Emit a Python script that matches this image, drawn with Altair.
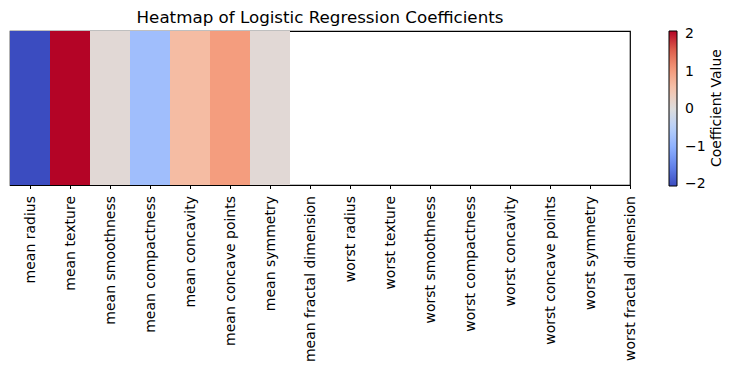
import json
import altair as alt
import pandas as pd

features = [
    "mean radius", "mean texture", "mean smoothness", "mean compactness",
    "mean concavity", "mean concave points", "mean symmetry",
    "mean fractal dimension", "worst radius", "worst texture",
    "worst smoothness", "worst compactness", "worst concavity",
    "worst concave points", "worst symmetry", "worst fractal dimension",
]
coefficients = [-2.05, 2.09, 0.10, -0.79, 0.64, 1.02, 0.10]
chart_title = "Heatmap of Logistic Regression Coefficients"
colorbar_label = "Coefficient Value"

cmin, cmax = -2.05, 2.09
coolwarm = ["#3b4cc0", "#6282ea", "#8db0fe", "#b8d0f9", "#dddcdc",
            "#f5c4ad", "#f49a7b", "#de604d", "#b40426"]
stops = [cmin + i * (cmax - cmin) / 8 for i in range(9)]

df = pd.DataFrame({
    "feature": features[:len(coefficients)],
    "coef": coefficients,
    "x0": list(range(len(coefficients))),
})
df["x1"] = df["x0"] + 1

FONT = "DejaVu Sans"
W, H = 620, 154

label_expr = json.dumps(features) + "[round(datum.value - 0.5)]"

heat = alt.Chart(df).mark_rect().encode(
    x=alt.X("x0:Q", scale=alt.Scale(domain=[0, 15.5], nice=False, zero=False),
            axis=alt.Axis(values=[i + 0.5 for i in range(16)], labelExpr=label_expr,
                          title=None, grid=False, domain=False, tickColor="black",
                          tickSize=3.5, labelAngle=270, labelAlign="right",
                          labelBaseline="middle", labelPadding=7, labelFont=FONT,
                          labelFontSize=14, labelColor="black", labelOverlap=False,
                          labelLimit=300)),
    x2="x1:Q",
    y=alt.value(0),
    y2=alt.value(H),
    color=alt.Color("coef:Q",
                    scale=alt.Scale(domain=stops, range=coolwarm, interpolate="rgb"),
                    legend=alt.Legend(orient="none", legendX=659, legendY=0,
                                      title=None, gradientLength=155,
                                      gradientThickness=8, gradientStrokeColor="black",
                                      gradientStrokeWidth=1, values=[-2, -1, 0, 1, 2],
                                      labelExpr="replace(datum.label, '-', '\u2212')",
                                      labelFont=FONT, labelFontSize=14,
                                      labelColor="black", labelOffset=8,
                                      direction="vertical")),
)

cbar_title = alt.Chart(pd.DataFrame({"t": [colorbar_label]})).mark_text(
    angle=270, align="center", baseline="middle", font=FONT, fontSize=14, color="black"
).encode(x=alt.value(707), y=alt.value(77), text="t:N")

main_title = alt.Chart(pd.DataFrame({"t": [chart_title]})).mark_text(
    align="center", baseline="alphabetic", font=FONT, fontSize=16.7, color="black"
).encode(x=alt.value(W / 2), y=alt.value(-8), text="t:N")

chart = alt.layer(heat, cbar_title, main_title).properties(
    width=W, height=H,
    background="white",
    autosize=alt.AutoSizeParams(type="none"),
    padding={"left": 2, "top": 23, "right": 98, "bottom": 176},
).configure_view(stroke="black", strokeWidth=1.2)

chart.save("out.html", embed_options={"renderer": "svg", "actions": False})
